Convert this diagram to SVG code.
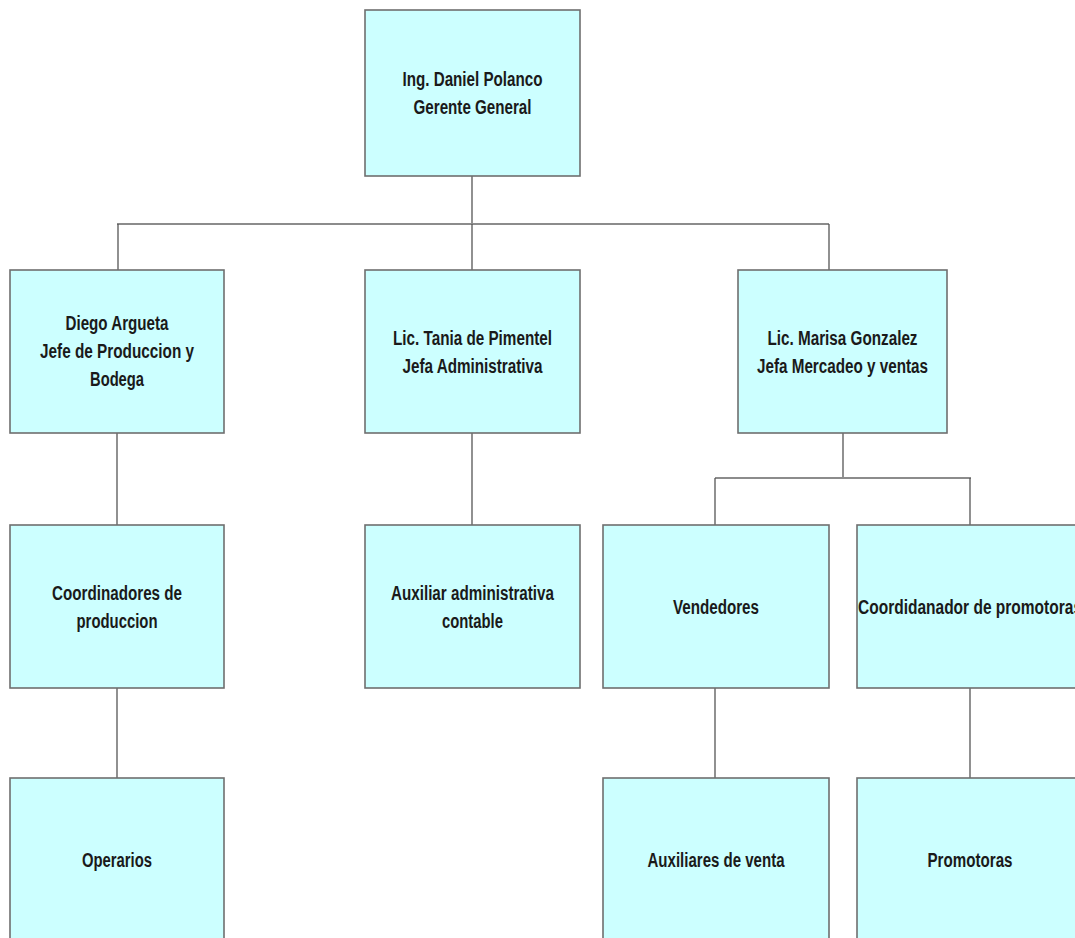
<svg xmlns="http://www.w3.org/2000/svg" width="1075" height="938" viewBox="0 0 1075 938">
<style>
.box{fill:#ccffff;stroke:#6f6f6f;stroke-width:1.6}
.t{font-family:"Liberation Sans","Arial",sans-serif;font-weight:bold;font-size:20px;fill:#1a1a1a;text-anchor:middle}
.h{stroke:#8c8c8c;stroke-width:2;fill:none}
.v{stroke:#555;stroke-width:1.3;fill:none}
</style>
<rect width="1075" height="938" fill="#ffffff"/>
<g id="connectors">
<line class="v" x1="472" y1="176" x2="472" y2="224"/>
<line class="h" x1="117" y1="224" x2="829" y2="224"/>
<line class="v" x1="118" y1="224" x2="118" y2="270"/>
<line class="v" x1="472" y1="224" x2="472" y2="270"/>
<line class="v" x1="829" y1="224" x2="829" y2="270"/>
<line class="v" x1="117" y1="433" x2="117" y2="525"/>
<line class="v" x1="472" y1="433" x2="472" y2="525"/>
<line class="v" x1="843" y1="433" x2="843" y2="478"/>
<line class="h" x1="715" y1="478" x2="971" y2="478"/>
<line class="v" x1="715" y1="478" x2="715" y2="525"/>
<line class="v" x1="970" y1="478" x2="970" y2="525"/>
<line class="v" x1="117" y1="688" x2="117" y2="778"/>
<line class="v" x1="715" y1="688" x2="715" y2="778"/>
<line class="v" x1="970" y1="688" x2="970" y2="778"/>
</g>
<g id="gerente">
<rect class="box" x="365" y="10" width="215" height="166"/>
<text class="t" x="472.5" y="86" textLength="140" lengthAdjust="spacingAndGlyphs">Ing. Daniel Polanco</text>
<text class="t" x="472.5" y="114" textLength="118" lengthAdjust="spacingAndGlyphs">Gerente General</text>
</g>
<g id="produccion">
<rect class="box" x="10" y="270" width="214" height="163"/>
<text class="t" x="117" y="330" textLength="103" lengthAdjust="spacingAndGlyphs">Diego Argueta</text>
<text class="t" x="117" y="358" textLength="154" lengthAdjust="spacingAndGlyphs">Jefe de Produccion y</text>
<text class="t" x="117" y="386" textLength="54" lengthAdjust="spacingAndGlyphs">Bodega</text>
</g>
<g id="administrativa">
<rect class="box" x="365" y="270" width="215" height="163"/>
<text class="t" x="472.5" y="345" textLength="159" lengthAdjust="spacingAndGlyphs">Lic. Tania de Pimentel</text>
<text class="t" x="472.5" y="373" textLength="140" lengthAdjust="spacingAndGlyphs">Jefa Administrativa</text>
</g>
<g id="mercadeo">
<rect class="box" x="738" y="270" width="209" height="163"/>
<text class="t" x="842.5" y="345" textLength="150" lengthAdjust="spacingAndGlyphs">Lic. Marisa Gonzalez</text>
<text class="t" x="842.5" y="373" textLength="171" lengthAdjust="spacingAndGlyphs">Jefa Mercadeo y ventas</text>
</g>
<g id="coordinadores">
<rect class="box" x="10" y="525" width="214" height="163"/>
<text class="t" x="117" y="600" textLength="130" lengthAdjust="spacingAndGlyphs">Coordinadores de</text>
<text class="t" x="117" y="628" textLength="81" lengthAdjust="spacingAndGlyphs">produccion</text>
</g>
<g id="auxiliar-admin">
<rect class="box" x="365" y="525" width="215" height="163"/>
<text class="t" x="472.5" y="600" textLength="163" lengthAdjust="spacingAndGlyphs">Auxiliar administrativa</text>
<text class="t" x="472.5" y="628" textLength="61" lengthAdjust="spacingAndGlyphs">contable</text>
</g>
<g id="vendedores">
<rect class="box" x="603" y="525" width="226" height="163"/>
<text class="t" x="716" y="614" textLength="86" lengthAdjust="spacingAndGlyphs">Vendedores</text>
</g>
<g id="coord-promotoras">
<rect class="box" x="857" y="525" width="226" height="163"/>
<text class="t" x="970" y="614" textLength="224" lengthAdjust="spacingAndGlyphs">Coordidanador de promotoras</text>
</g>
<g id="operarios">
<rect class="box" x="10" y="778" width="214" height="164"/>
<text class="t" x="117" y="867" textLength="70" lengthAdjust="spacingAndGlyphs">Operarios</text>
</g>
<g id="auxiliares-venta">
<rect class="box" x="603" y="778" width="226" height="164"/>
<text class="t" x="716" y="867" textLength="137" lengthAdjust="spacingAndGlyphs">Auxiliares de venta</text>
</g>
<g id="promotoras">
<rect class="box" x="857" y="778" width="226" height="164"/>
<text class="t" x="970" y="867" textLength="85" lengthAdjust="spacingAndGlyphs">Promotoras</text>
</g>
</svg>
